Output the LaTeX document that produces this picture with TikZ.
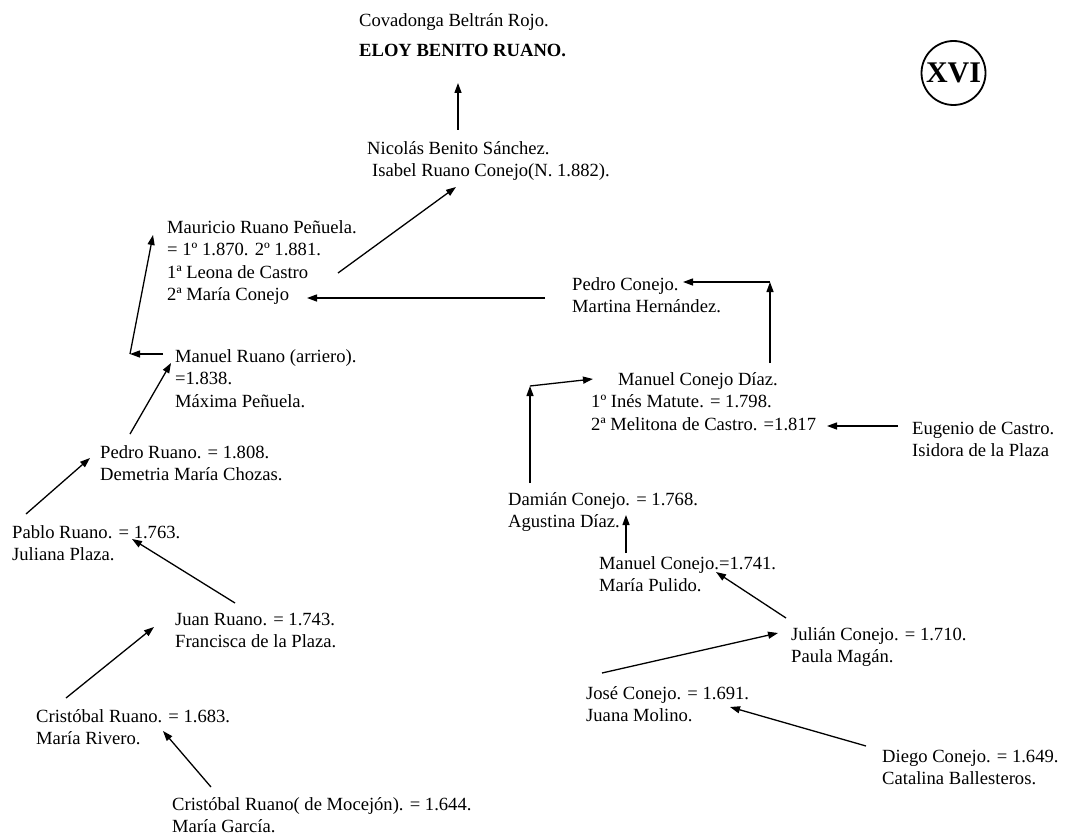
\documentclass[tikz,border=0pt]{standalone}
\usepackage{fontspec}
\setmainfont{Liberation Serif}
\usetikzlibrary{arrows.meta}
\newcommand\plines[1]{\vtop{\baselineskip=22.5pt\lineskiplimit=-100pt\lineskip=0pt\halign{##\hfil\cr#1\crcr}}}
\begin{document}
\begin{tikzpicture}[x=1pt,y=-1pt,
  every node/.style={inner sep=0pt, anchor=base west, font=\fontsize{18.6}{22.5}\selectfont},
  arr/.style={-{Triangle[length=10pt,width=7pt]}, line width=1.3pt},
  ln/.style={line width=1.3pt}]
\useasboundingbox (0,0) rectangle (1065,840);
% nodes
\node (cov) at (359,27) {Covadonga Beltrán Rojo.};
\node[font=\fontsize{18.6}{22.5}\selectfont\bfseries] (eloy) at (359,57) {ELOY BENITO RUANO.};
\node (nico) at (367,154) {\plines{Nicolás Benito Sánchez.\cr\kern5pt Isabel Ruano Conejo(N. 1.882).}};
\node (maur) at (167,233) {\plines{Mauricio Ruano Peñuela.\cr = 1º 1.870. 2º 1.881.\cr 1ª Leona de Castro\cr 2ª María Conejo}};
\node (manR) at (175,362) {\plines{Manuel Ruano (arriero).\cr =1.838.\cr Máxima Peñuela.}};
\node (pedR) at (100,458) {\plines{Pedro Ruano. = 1.808.\cr Demetria María Chozas.}};
\node (pablo) at (12,538) {\plines{Pablo Ruano. = 1.763.\cr Juliana Plaza.}};
\node (juan) at (175,625) {\plines{Juan Ruano. = 1.743.\cr Francisca de la Plaza.}};
\node (cris) at (36,722) {\plines{Cristóbal Ruano. = 1.683.\cr María Rivero.}};
\node (cris2) at (172,810) {\plines{Cristóbal Ruano( de Mocejón). = 1.644.\cr María García.}};
\node (pedC) at (572,290) {\plines{Pedro Conejo.\cr Martina Hernández.}};
\node (manC) at (591,385) {\plines{\kern27pt Manuel Conejo Díaz.\cr 1º Inés Matute. = 1.798.\cr 2ª Melitona de Castro. =1.817}};
\node (eug) at (912,434) {\plines{Eugenio de Castro.\cr Isidora de la Plaza}};
\node (dam) at (508,505) {\plines{Damián Conejo. = 1.768.\cr Agustina Díaz.}};
\node (manC2) at (599,569) {\plines{Manuel Conejo.=1.741.\cr María Pulido.}};
\node (jul) at (791,640) {\plines{Julián Conejo. = 1.710.\cr Paula Magán.}};
\node (jose) at (586,699) {\plines{José Conejo. = 1.691.\cr Juana Molino.}};
\node (diego) at (882,762) {\plines{Diego Conejo. = 1.649.\cr Catalina Ballesteros.}};
\node[anchor=center, draw, circle, line width=1.8pt, minimum size=64pt,
      font=\fontsize{30}{34}\selectfont\bfseries] (xvi) at (953.5,73) {XVI};
% corner coordinates
\coordinate (c1) at (130,354);
\coordinate (c2) at (770,282);
\coordinate (c3) at (530,386);
% connectors
\draw[arr] ([shift={(91,-24)}]nico.base west) -- ([shift={(99,26)}]eloy.base west);
\draw[arr] ([shift={(171,40)}]maur.base west) -- ([shift={(89,33)}]nico.base west);
\draw[arr] ([shift={(-27,8)}]pedC.base west) -- ([shift={(140,65)}]maur.base west);
\draw[arr] ([shift={(-12,-8)}]manR.base west) -- (c1);
\draw[arr] (c1) -- ([shift={(-14,2)}]maur.base west);
\draw[arr] ([shift={(30,-24)}]pedR.base west) -- ([shift={(-4,1)}]manR.base west);
\draw[arr] ([shift={(14,-24)}]pablo.base west) -- ([shift={(-10,0)}]pedR.base west);
\draw[arr] ([shift={(60,-22)}]juan.base west) -- ([shift={(120,1)}]pablo.base west);
\draw[arr] ([shift={(30,-24)}]cris.base west) -- ([shift={(-21,2)}]juan.base west);
\draw[arr] ([shift={(39,-23)}]cris2.base west) -- ([shift={(127,9)}]cris.base west);
\draw[arr] ([shift={(179,-22)}]manC.base west) -- (c2);
\draw[arr] (c2) -- ([shift={(111,-8)}]pedC.base west);
\draw[arr] ([shift={(-14,-8)}]eug.base west) -- ([shift={(236,41)}]manC.base west);
\draw[arr] ([shift={(22,-22)}]dam.base west) -- (c3);
\draw[arr] (c3) -- ([shift={(2,-6)}]manC.base west);
\draw[arr] ([shift={(27,-16)}]manC2.base west) -- ([shift={(118,10)}]dam.base west);
\draw[arr] ([shift={(-5,-22)}]jul.base west) -- ([shift={(117,3)}]manC2.base west);
\draw[arr] ([shift={(16,-26)}]jose.base west) -- ([shift={(-13,-7)}]jul.base west);
\draw[arr] ([shift={(-16,-16)}]diego.base west) -- ([shift={(144,8)}]jose.base west);
\end{tikzpicture}
\end{document}
